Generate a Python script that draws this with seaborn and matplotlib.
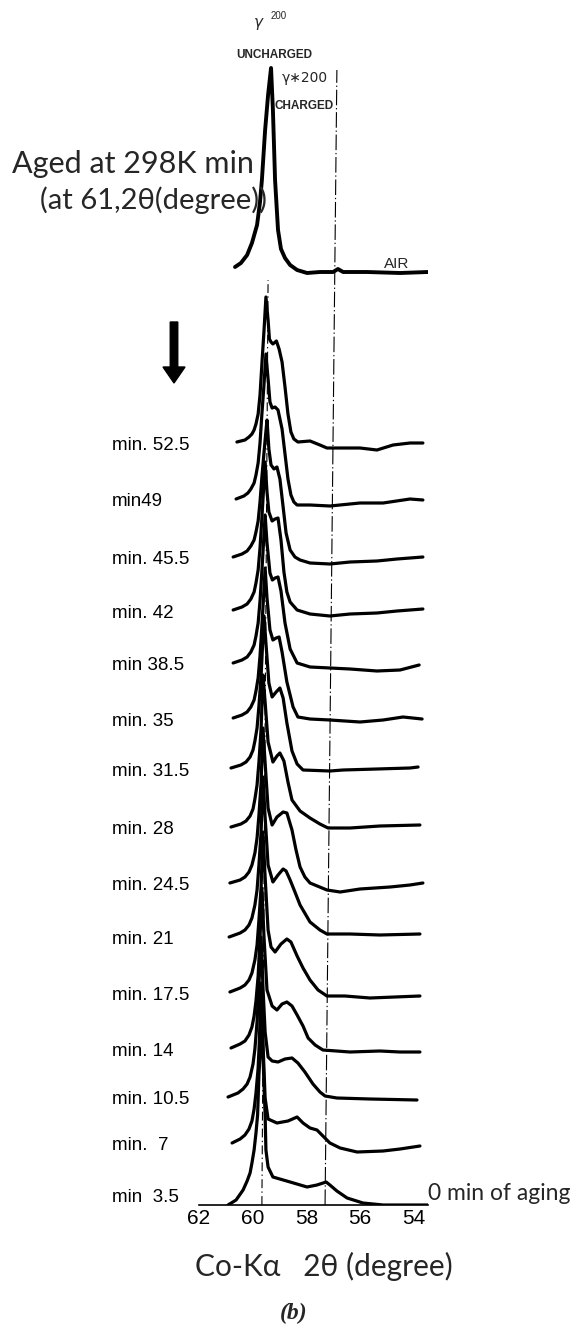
import numpy as np
import pandas as pd
import matplotlib
matplotlib.use("Agg")
import matplotlib.pyplot as plt
import seaborn as sns
from matplotlib.patches import FancyArrow
from matplotlib.transforms import blended_transform_factory

sns.set_theme(style="white")
plt.rcParams["font.family"] = ["Liberation Sans", "DejaVu Sans"]

# ---- diffraction scans: 2-theta (degree) and counts above each scan's own baseline ----
tt_air = [60.66, 60.44, 60.21, 60.03, 59.84, 59.73, 59.66, 59.54, 59.43, 59.32, 59.25, 59.17,
          59.06, 58.95, 58.80, 58.61, 58.35, 57.98, 57.50, 57.01, 56.83, 56.64, 55.75, 54.52,
          53.48]
i_air = [0, 4, 12, 24, 42, 65, 87, 137, 172, 199, 157, 87, 37, 18, 9, 2, -3, -6, -5, -5, -2,
         -5, -5, -6, -5]

tt_525 = [60.59, 60.29, 60.14, 60.03, 59.95, 59.88, 59.80, 59.73, 59.66, 59.58, 59.51, 59.43,
          59.38, 59.32, 59.25, 59.12, 59.02, 58.91, 58.80, 58.69, 58.58, 58.47, 58.32, 57.87,
          57.50, 57.24, 56.64, 56.01, 55.38, 54.78, 54.15, 53.67]
i_525 = [0, 2, 5, 8, 12, 18, 28, 47, 78, 112, 145, 122, 103, 100, 98, 101, 93, 80, 55, 28, 10,
         3, 0, 1, -3, -6, -6, -6, -8, -3, -1, -1]

tt_490 = [60.62, 60.33, 60.18, 60.07, 59.95, 59.88, 59.80, 59.73, 59.66, 59.58, 59.51, 59.43,
          59.36, 59.28, 59.17, 59.06, 58.91, 58.80, 58.69, 58.58, 58.47, 58.35, 57.87, 57.13,
          56.01, 55.15, 54.15, 53.67]
i_490 = [0, 3, 6, 10, 16, 24, 36, 56, 85, 115, 145, 120, 97, 91, 92, 89, 70, 45, 20, 4, -3,
         -6, -6, -7, -4, -4, 0, -1]

tt_455 = [60.73, 60.40, 60.21, 60.07, 59.95, 59.88, 59.80, 59.73, 59.66, 59.58, 59.53, 59.47,
          59.40, 59.32, 59.21, 59.10, 58.99, 58.87, 58.76, 58.61, 58.43, 58.24, 57.87, 57.13,
          56.38, 55.38, 54.63, 54.15, 53.67]
i_455 = [0, 3, 6, 11, 17, 25, 36, 55, 80, 105, 120, 137, 108, 92, 88, 90, 78, 50, 24, 7, 0,
         -3, -6, -7, -5, -4, -2, -1, 0]

tt_420 = [60.73, 60.40, 60.21, 60.07, 59.95, 59.88, 59.80, 59.73, 59.66, 59.60, 59.54, 59.47,
          59.40, 59.28, 59.17, 59.06, 58.95, 58.84, 58.73, 58.61, 58.35, 57.87, 57.13, 56.38,
          55.38, 54.63, 53.67]
i_420 = [0, 3, 6, 11, 18, 27, 40, 62, 92, 120, 148, 118, 98, 89, 91, 92, 70, 38, 18, 8, 0,
         -4, -6, -4, -3, -1, 1]

tt_385 = [60.73, 60.40, 60.21, 60.07, 59.95, 59.88, 59.80, 59.73, 59.66, 59.60, 59.54, 59.47,
          59.36, 59.27, 59.17, 59.06, 58.95, 58.80, 58.61, 58.35, 57.87, 57.13, 56.38, 55.38,
          54.52, 53.81]
i_385 = [0, 3, 6, 11, 18, 27, 40, 62, 92, 120, 148, 120, 90, 83, 85, 86, 72, 40, 14, 0, -4,
         -5, -6, -8, -7, -2]

tt_350 = [60.73, 60.40, 60.21, 60.07, 59.95, 59.88, 59.80, 59.73, 59.66, 59.60, 59.54, 59.47,
          59.36, 59.25, 59.13, 59.02, 58.91, 58.73, 58.50, 58.32, 57.87, 57.13, 56.01, 55.15,
          54.41, 53.70]
i_350 = [0, 3, 6, 11, 18, 27, 40, 62, 92, 120, 150, 120, 88, 78, 80, 81, 66, 36, 11, 1, -1,
         -2, -4, -2, 1, -1]

tt_315 = [60.81, 60.44, 60.25, 60.10, 59.99, 59.92, 59.84, 59.77, 59.69, 59.64, 59.58, 59.51,
          59.40, 59.28, 59.13, 58.99, 58.87, 58.73, 58.54, 58.35, 58.13, 57.13, 56.64, 55.38,
          54.15, 53.85]
i_315 = [0, 3, 6, 11, 18, 27, 40, 62, 92, 120, 152, 125, 85, 71, 76, 80, 70, 45, 17, 4, -2,
         -3, -2, -1, 0, 1]

tt_280 = [60.81, 60.44, 60.25, 60.10, 59.99, 59.92, 59.84, 59.77, 59.69, 59.62, 59.54, 59.43,
          59.25, 59.10, 58.99, 58.84, 58.69, 58.54, 58.24, 57.87, 57.50, 57.20, 56.38, 55.27,
          53.78]
i_280 = [0, 3, 6, 11, 18, 28, 42, 65, 98, 152, 125, 85, 65, 71, 74, 66, 45, 27, 16, 9, 3, -1,
         -1, 1, 2]

tt_245 = [60.85, 60.47, 60.29, 60.14, 60.03, 59.92, 59.84, 59.77, 59.69, 59.62, 59.54, 59.43,
          59.28, 59.10, 58.87, 58.73, 58.54, 58.39, 58.24, 58.06, 57.87, 57.24, 56.75, 56.01,
          54.89, 54.15, 53.67]
i_245 = [0, 3, 6, 11, 18, 30, 45, 68, 100, 155, 120, 75, 58, 66, 71, 70, 53, 33, 16, 6, 0,
         -7, -9, -6, -4, -2, 0]

tt_210 = [60.88, 60.47, 60.29, 60.14, 60.03, 59.92, 59.84, 59.77, 59.69, 59.62, 59.54, 59.43,
          59.25, 59.06, 58.87, 58.76, 58.61, 58.43, 58.24, 57.87, 57.50, 57.24, 56.38, 55.27,
          53.78]
i_210 = [0, 4, 7, 12, 19, 32, 47, 72, 105, 160, 120, 72, 55, 62, 68, 66, 57, 45, 32, 15, 7,
         3, 3, 2, 3]

tt_175 = [60.85, 60.47, 60.29, 60.14, 60.03, 59.92, 59.84, 59.77, 59.69, 59.62, 59.54, 59.43,
          59.32, 59.17, 58.95, 58.73, 58.58, 58.35, 58.13, 57.87, 57.57, 57.24, 56.57, 55.64,
          54.71, 53.78]
i_175 = [0, 4, 7, 12, 19, 32, 47, 72, 105, 160, 115, 62, 45, 40, 48, 53, 50, 36, 24, 12, 2,
         -4, -4, -6, -5, -4]

tt_140 = [60.81, 60.47, 60.29, 60.14, 60.03, 59.95, 59.88, 59.80, 59.73, 59.66, 59.58, 59.47,
          59.28, 59.10, 58.91, 58.73, 58.54, 58.35, 58.13, 57.94, 57.68, 57.39, 56.38, 55.27,
          54.52, 53.78]
i_140 = [0, 4, 7, 13, 21, 32, 47, 72, 110, 160, 110, 58, 42, 38, 44, 46, 42, 33, 22, 10, 3,
         -2, -4, -3, -4, -4]

tt_105 = [60.92, 60.55, 60.36, 60.21, 60.10, 59.99, 59.92, 59.84, 59.77, 59.69, 59.62, 59.54,
          59.43, 59.28, 59.06, 58.80, 58.54, 58.32, 58.06, 57.76, 57.50, 57.31, 56.87, 55.64,
          53.89]
i_105 = [0, 4, 8, 13, 20, 33, 48, 75, 112, 160, 110, 65, 40, 36, 35, 38, 39, 34, 25, 13, 5,
         1, -1, -2, -3]

tt_070 = [60.77, 60.47, 60.29, 60.14, 60.03, 59.95, 59.88, 59.80, 59.75, 59.69, 59.62, 59.54,
          59.43, 59.10, 58.69, 58.35, 58.13, 57.87, 57.61, 57.39, 57.13, 56.75, 56.12, 55.15,
          54.52, 53.78]
i_070 = [0, 4, 8, 14, 22, 34, 50, 75, 105, 160, 100, 45, 24, 20, 22, 26, 20, 15, 13, 7, 0,
         -5, -9, -8, -6, -3]

tt_035 = [60.92, 60.62, 60.36, 60.21, 60.10, 60.03, 59.95, 59.88, 59.82, 59.77, 59.71, 59.66,
          59.62, 59.54, 59.51, 59.43, 59.25, 58.61, 57.98, 57.61, 57.27, 57.13, 56.87, 56.49,
          55.90, 55.15, 53.48]
i_035 = [0, 5, 15, 24, 32, 42, 55, 72, 90, 130, 160, 195, 150, 90, 55, 38, 28, 23, 18, 20,
         23, 20, 14, 7, 2, 0, 0]

# scan names (aging time labels), top to bottom
scan_labels = ["AIR", "min. 52.5", "min49", "min. 45.5", "min. 42", "min 38.5", "min. 35",
               "min. 31.5", "min. 28", "min. 24.5", "min. 21", "min. 17.5", "min. 14",
               "min. 10.5", "min.  7", "min  3.5"]
# vertical stacking offsets of the scans
stack_offset = [938, 763, 706, 648, 595, 542, 487, 437, 378, 322, 268, 213, 157, 108, 62, 0]

# reference 2-theta lines (bottom, top end) and their heights
uncharged_tt = [59.66, 59.43]
uncharged_top = 925
charged_tt = [57.31, 56.87]
charged_top = 1135

x_major = [62, 60, 58, 56, 54]
x_minor = [61, 59, 57, 55]

scan_tt = [tt_air, tt_525, tt_490, tt_455, tt_420, tt_385, tt_350, tt_315, tt_280, tt_245,
           tt_210, tt_175, tt_140, tt_105, tt_070, tt_035]
scan_i = [i_air, i_525, i_490, i_455, i_420, i_385, i_350, i_315, i_280, i_245,
          i_210, i_175, i_140, i_105, i_070, i_035]

frames = []
for name, tt, inten, off in zip(scan_labels, scan_tt, scan_i, stack_offset):
    frames.append(pd.DataFrame({"scan": name, "two_theta": tt,
                                "level": np.asarray(inten, dtype=float) + off}))
df = pd.concat(frames, ignore_index=True)

W, H = 573, 1328
fig = plt.figure(figsize=(W / 100, H / 100), dpi=100)
fig.patch.set_facecolor("white")
ax = fig.add_axes([199 / W, (H - 1205) / H, 229 / W, 1205 / H])
ax.set_facecolor("white")

line_kw = dict(x="two_theta", y="level", units="scan", estimator=None, sort=False,
               color="black", ax=ax, legend=False,
               solid_joinstyle="round", solid_capstyle="round")
sns.lineplot(data=df[df["scan"] == "AIR"], linewidth=2.8, **line_kw)
sns.lineplot(data=df[df["scan"] != "AIR"], linewidth=2.3, **line_kw)

ax.plot(uncharged_tt, [0, uncharged_top], color="black", lw=0.8, dashes=(8, 3, 1.2, 3))
ax.plot(charged_tt, [0, charged_top], color="black", lw=0.8, dashes=(14, 2.5, 1.2, 2.5))

ax.set_xlim(62, 53.48)
ax.set_ylim(0, 1205)
for s in ["left", "top", "right"]:
    ax.spines[s].set_visible(False)
ax.spines["bottom"].set_linewidth(1.2)
ax.spines["bottom"].set_color("black")
ax.set_yticks([])
ax.set_xticks(x_major)
ax.set_xticks(x_minor, minor=True)
ax.set_xticklabels([str(v) for v in x_major],
                   fontfamily=["Liberation Sans Narrow", "Liberation Sans"], fontsize=15)
ax.tick_params(axis="x", which="both", direction="in", length=7, width=1.0,
               color="black", pad=3, labelcolor="black")
ax.set_xlabel("")
ax.set_ylabel("")

# aging-time labels on the left of each scan
lab_tr = blended_transform_factory(fig.transFigure, ax.transData)
for name, off in zip(scan_labels[1:], stack_offset[1:]):
    ax.text(112 / W, max(off - 3, 8), name, transform=lab_tr, ha="left", va="center",
            fontsize=13.5, fontfamily=["Liberation Sans Narrow", "Liberation Sans"],
            color="black")

def ftext(x, y, s, **kw):
    fig.text(x / W, 1 - y / H, s, **kw)

narrow = ["Liberation Sans Narrow", "Liberation Sans", "DejaVu Sans"]
round_f = ["Lato", "DejaVu Sans"]

ftext(258, 22, "γ", ha="center", va="center", fontsize=11, style="italic",
      fontfamily=["DejaVu Sans"])
ftext(279, 16, "200", ha="center", va="center", fontsize=7, fontfamily=narrow)
ftext(274, 55, "UNCHARGED", ha="center", va="center", fontsize=8.5, fontweight="bold",
      fontfamily=narrow)
ftext(305, 78, "γ∗200", ha="center", va="center", fontsize=10, fontfamily=["DejaVu Sans"])
ftext(304, 106, "CHARGED", ha="center", va="center", fontsize=8.5, fontweight="bold",
      fontfamily=narrow)
ftext(397, 264, "AIR", ha="center", va="center", fontsize=11, fontfamily=narrow)

ftext(12, 173, "Aged at 298K min", ha="left", va="baseline", fontsize=22, fontfamily=round_f)
ftext(267, 200, "(at 61,2θ(degree))", ha="right", va="center", fontsize=21,
      fontfamily=round_f)

ftext(428, 1193, "0 min of aging", ha="left", va="center", fontsize=16.5, fontfamily=round_f)
ftext(324, 1266, "Co-Kα   2θ (degree)", ha="center", va="center", fontsize=21.5,
      fontfamily=round_f)
ftext(294, 1313, "(b)", ha="center", va="center", fontsize=17, fontweight="bold",
      style="italic", fontfamily=["Liberation Serif", "DejaVu Serif"])

# downward arrow marking increasing aging
arrow = FancyArrow(1.74, (H - 322) / 100, 0, -(383 - 322) / 100, width=0.075,
                   head_width=0.22, head_length=0.16, length_includes_head=True,
                   color="black", transform=fig.dpi_scale_trans)
fig.patches.append(arrow)

fig.savefig("out.png", dpi=100, facecolor="white")
